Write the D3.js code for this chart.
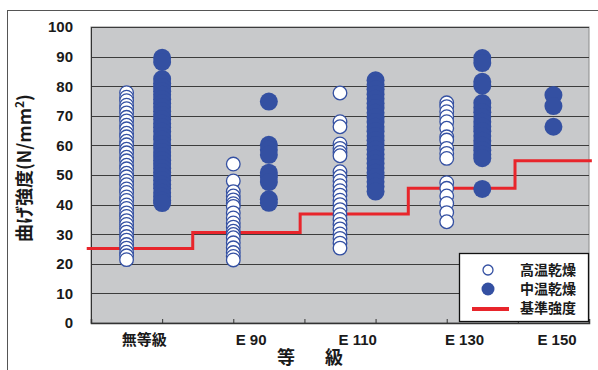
<!DOCTYPE html>
<html>
<head>
<meta charset="utf-8">
<script src="https://cdn.jsdelivr.net/npm/d3@7"></script>
<style>
  html, body { margin: 0; padding: 0; background: #fff; }
  svg { display: block; }
  text { font-family: "Liberation Sans", Arial, "Noto Sans CJK JP", sans-serif; fill: #1a1a1a; }
  .cjk { font-family: "Noto Sans CJK JP", "Liberation Sans", sans-serif; }
</style>
</head>
<body>
<svg id="chart" width="598" height="370"></svg>
<script>
// Grades along the horizontal axis and where their labels sit (x units 0..7)
const grades = ["無等級", "E 90", "E 110", "E 130", "E 150"];
const gradeLabelX = [0.75, 2.25, 3.75, 5.25, 6.55];

// Column positions of each drying method
const highTempX = [0.5, 2, 3.5, 5];          // 高温乾燥: 無等級, E90, E110, E130
const midTempX = [1, 2.5, 4, 5.5, 6.5];      // 中温乾燥: 無等級, E90, E110, E130, E150

// Bending strength (N/mm²), high-temperature drying
const highTempNone = [77.8, 76.3, 75.1, 73.6, 72.4, 71.0, 69.5, 68.3, 66.8, 65.6, 64.1, 62.9, 61.4, 60.2,
  58.7, 57.5, 56.0, 54.8, 53.3, 52.1, 50.6, 49.4, 48.0, 46.7, 45.3, 44.1, 42.6, 41.4, 39.9, 38.7,
  37.2, 36.0, 34.6, 33.3, 31.9, 30.7, 29.2, 28.0, 26.5, 25.3, 23.9, 22.7, 21.4];
const highTempE90 = [53.7, 48.0, 44.4, 42.9, 41.6, 40.3, 39.4, 37.2, 35.5, 33.8, 32.4, 31.0, 29.9, 28.8,
  27.1, 25.4, 23.8, 22.5, 21.3];
const highTempE110 = [77.7, 68.0, 66.3, 60.5, 59.0, 57.6, 56.5, 51.1, 49.5, 48.0, 46.4, 44.7, 43.2,
  41.5, 40.0, 38.3, 36.6, 35.0, 33.3, 31.8, 30.1, 28.6, 27.0, 25.3];
const highTempE130 = [74.4, 73.1, 71.4, 69.7, 68.0, 65.8, 62.9, 61.8, 59.0, 57.3, 55.6,
  47.4, 45.5, 42.9, 40.4, 37.3, 34.2];

// Bending strength (N/mm²), medium-temperature drying
const midTempNone = [89.6, 88.2, 82.4, 81.0, 79.7, 78.3, 77.1, 75.6, 74.2, 73.0, 71.5, 70.3, 68.8, 67.4,
  66.1, 64.7, 63.2, 62.0, 60.5, 59.1, 57.8, 56.4, 55.0, 53.7, 52.3, 50.9, 49.6, 48.2, 46.8, 45.5,
  44.0, 42.7, 41.4, 40.5];
const midTempE90 = [74.8, 60.2, 58.5, 56.8, 50.8, 49.3, 47.6, 41.8, 40.6];
const midTempE110 = [82.0, 80.5, 79.0, 77.3, 75.8, 74.2, 72.6, 71.0, 69.5, 67.9, 66.3, 64.8, 63.2, 61.7,
  60.1, 58.6, 57.0, 55.5, 53.9, 52.4, 50.8, 49.3, 47.7, 46.1, 44.4];
const midTempE130 = [89.5, 87.8, 81.5, 80.2, 74.3, 72.8, 71.2, 69.6, 68.0, 66.4, 64.8, 63.2, 61.6, 60.0,
  58.4, 56.9, 55.7, 45.3];
const midTempE150 = [77.0, 73.3, 66.3];

// Standard strength per grade and the x positions where the step changes
const standardStrength = [25.2, 30.6, 36.8, 45.5, 54.8];
const standardBreaks = [-0.06, 1.43, 2.94, 4.46, 5.96, 7.04];

const yTickValues = [0, 10, 20, 30, 40, 50, 60, 70, 80, 90, 100];
const xTickValues = [1, 2, 3, 4, 5, 6];

const legendLabels = ["高温乾燥", "中温乾燥", "基準強度"];

const highTempSeries = [highTempNone, highTempE90, highTempE110, highTempE130];
const midTempSeries = [midTempNone, midTempE90, midTempE110, midTempE130, midTempE150];

const BLUE = "#3450a2";
const RED = "#e8252b";

const svg = d3.select("#chart");
const plot = { left: 91, right: 589, top: 27, bottom: 323 };

const x = d3.scaleLinear().domain([0, 7]).range([plot.left, plot.right]);
const y = d3.scaleLinear().domain([0, 100]).range([plot.bottom, plot.top]);

// Outer frame
svg.append("rect")
  .attr("x", 7.5).attr("y", 10.5).attr("width", 620).attr("height", 400)
  .attr("fill", "none").attr("stroke", "#555").attr("stroke-width", 1);

// Plot background
svg.append("rect")
  .attr("x", plot.left).attr("y", plot.top)
  .attr("width", plot.right - plot.left).attr("height", plot.bottom - plot.top)
  .attr("fill", "#c8c9cb").attr("stroke", "#8a8a8a").attr("stroke-width", 1);

// Horizontal gridlines
svg.append("g")
  .selectAll("line")
  .data(yTickValues.filter(v => v > 0))
  .join("line")
  .attr("x1", plot.left).attr("x2", plot.right)
  .attr("y1", d => Math.round(y(d)) + 0.5).attr("y2", d => Math.round(y(d)) + 0.5)
  .attr("stroke", "#3c3c3c").attr("stroke-width", 1);

// Y axis
const yAxis = svg.append("g")
  .attr("transform", `translate(${plot.left},0)`)
  .call(d3.axisLeft(y).tickValues(yTickValues).tickSize(0).tickPadding(18));
yAxis.select(".domain").attr("stroke", "#333");
yAxis.selectAll("text")
  .attr("font-size", 15).attr("font-weight", "bold")
  .attr("font-family", "Liberation Sans, Arial, sans-serif").attr("fill", "#1a1a1a");

// X axis (tick marks only; grade labels are placed separately)
const xAxis = svg.append("g")
  .attr("transform", `translate(0,${plot.bottom})`)
  .call(d3.axisBottom(x).tickValues(xTickValues).tickSize(-4).tickFormat(""));
xAxis.select(".domain").attr("stroke", "#333").attr("stroke-width", 1.5);
xAxis.selectAll(".tick line").attr("stroke", "#333");

// Grade labels
svg.append("g")
  .selectAll("text")
  .data(grades)
  .join("text")
  .attr("class", (d, i) => i === 0 ? "cjk" : null)
  .attr("x", (d, i) => x(gradeLabelX[i]))
  .attr("y", 345)
  .attr("text-anchor", "middle")
  .attr("font-size", 15).attr("font-weight", "bold")
  .text(d => d);

// Axis titles
svg.append("text")
  .attr("class", "cjk")
  .attr("x", 313).attr("y", 364)
  .attr("text-anchor", "middle")
  .attr("font-size", 18).attr("font-weight", "bold")
  .attr("letter-spacing", 6)
  .attr("xml:space", "preserve")
  .text("等　級");

const yTitle = svg.append("text")
  .attr("class", "cjk")
  .attr("transform", "translate(31,168) rotate(-90)")
  .attr("text-anchor", "middle")
  .attr("font-size", 18).attr("font-weight", "bold");
yTitle.append("tspan").text("曲げ強度(N/mm");
yTitle.append("tspan").attr("dy", -7).attr("font-size", 12).text("2");
yTitle.append("tspan").attr("dy", 7).text(")");

// Standard strength step line
const stepPoints = [];
standardStrength.forEach((v, i) => {
  stepPoints.push([standardBreaks[i], v]);
  stepPoints.push([standardBreaks[i + 1], v]);
});
svg.append("path")
  .datum(stepPoints)
  .attr("fill", "none")
  .attr("stroke", RED).attr("stroke-width", 3)
  .attr("d", d3.line().x(d => x(d[0])).y(d => y(d[1])));

// High-temperature drying: open circles
highTempSeries.forEach((vals, i) => {
  svg.append("g")
    .selectAll("circle")
    .data(vals)
    .join("circle")
    .attr("cx", x(highTempX[i]))
    .attr("cy", d => y(d))
    .attr("r", 6.8)
    .attr("fill", "#fff")
    .attr("stroke", BLUE).attr("stroke-width", 1.3);
});

// Medium-temperature drying: filled circles
midTempSeries.forEach((vals, i) => {
  svg.append("g")
    .selectAll("circle")
    .data(vals)
    .join("circle")
    .attr("cx", x(midTempX[i]))
    .attr("cy", d => y(d))
    .attr("r", 9)
    .attr("fill", BLUE);
});

// Legend
const legend = svg.append("g");
legend.append("rect")
  .attr("x", 459.5).attr("y", 253.5).attr("width", 129).attr("height", 68)
  .attr("fill", "#fff").attr("stroke", "#111").attr("stroke-width", 1.3);
legend.append("circle")
  .attr("cx", 488).attr("cy", 270).attr("r", 5)
  .attr("fill", "#fff").attr("stroke", BLUE).attr("stroke-width", 1.3);
legend.append("circle")
  .attr("cx", 488).attr("cy", 289).attr("r", 6.5)
  .attr("fill", BLUE);
legend.append("line")
  .attr("x1", 472).attr("x2", 509).attr("y1", 309).attr("y2", 309)
  .attr("stroke", RED).attr("stroke-width", 4);
legend.selectAll("text.lab")
  .data(legendLabels)
  .join("text")
  .attr("class", "cjk lab")
  .attr("x", 520)
  .attr("y", (d, i) => 275 + i * 19)
  .attr("font-size", 14).attr("font-weight", "bold")
  .text(d => d);
</script>
</body>
</html>
